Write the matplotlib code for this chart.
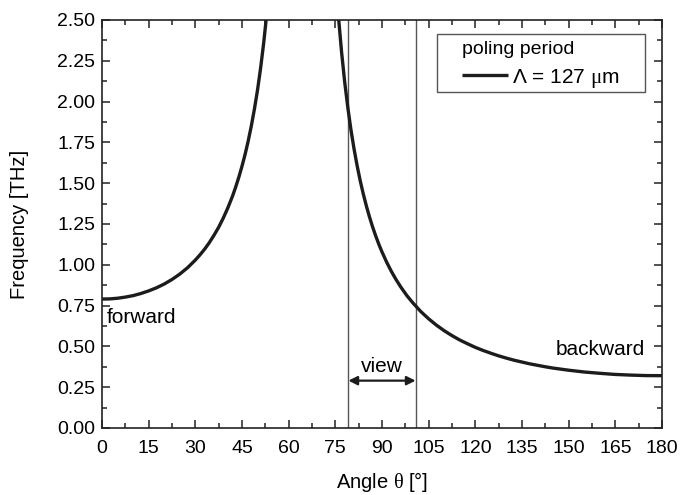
import matplotlib
matplotlib.use("Agg")
import matplotlib.pyplot as plt
from matplotlib.patches import Rectangle
from matplotlib.ticker import MultipleLocator, FormatStrFormatter

plt.rcParams['font.family'] = ['Liberation Sans', 'DejaVu Sans']
plt.rcParams['mathtext.fontset'] = 'custom'
plt.rcParams['mathtext.rm'] = 'Liberation Sans'
plt.rcParams['mathtext.it'] = 'Liberation Serif'

# phase-matched THz frequency vs emission angle, poling period 127 um
angle_fwd = [0, 2.5, 5, 7.5, 10, 12.5, 15, 17.5, 20, 22.5, 25, 27.5, 30, 31.5, 33,
             34.5, 36, 37.5, 39, 40.5, 42, 43, 44, 45, 46, 47, 48, 49, 50, 51, 52, 52.75]
freq_fwd = [0.790, 0.791, 0.795, 0.802, 0.811, 0.824, 0.840, 0.859, 0.882, 0.910,
            0.943, 0.982, 1.029, 1.061, 1.096, 1.136, 1.181, 1.230, 1.287, 1.351,
            1.423, 1.478, 1.538, 1.604, 1.677, 1.759, 1.851, 1.955, 2.072, 2.208,
            2.364, 2.50]

angle_bwd = [76.1, 77, 78, 79, 80, 81, 82, 83, 84, 85, 86, 87, 88, 89, 90, 91.5,
             93, 94.5, 96, 98, 100, 102.5, 105, 107.5, 110, 112.5, 115, 117.5, 120,
             122.5, 125, 127.5, 130, 132.5, 135, 137.5, 140, 142.5, 145, 150, 155,
             160, 165, 170, 175, 180]
freq_bwd = [2.50, 2.305, 2.122, 1.966, 1.830, 1.712, 1.608, 1.515, 1.433, 1.359,
            1.292, 1.231, 1.176, 1.125, 1.079, 1.016, 0.960, 0.910, 0.865, 0.811,
            0.765, 0.713, 0.669, 0.630, 0.596, 0.566, 0.539, 0.516, 0.494, 0.475,
            0.458, 0.442, 0.428, 0.415, 0.404, 0.393, 0.384, 0.375, 0.367, 0.354,
            0.343, 0.335, 0.328, 0.324, 0.321, 0.3205]

view_lo, view_hi = 79.2, 100.8

fig = plt.figure(figsize=(6.8, 4.95), dpi=100)
ax = fig.add_axes([0.15, 0.1354, 0.8235, 0.8242])

curve_color = '#1c1c1c'
ax.plot(angle_fwd, freq_fwd, color=curve_color, lw=2.4, solid_capstyle='butt',
        label=r'$\mathit{\Lambda}$ = 127 $\mathit{\mu}$m')
ax.plot(angle_bwd, freq_bwd, color=curve_color, lw=2.4, solid_capstyle='butt')

# viewing window
for xv in (view_lo, view_hi):
    ax.axvline(xv, color='#555555', lw=1.0, zorder=1)
ax.annotate('', xy=(view_lo, 0.29), xytext=(view_hi, 0.29),
            arrowprops=dict(arrowstyle='<|-|>', color='#1c1c1c', lw=1.6,
                            mutation_scale=13, shrinkA=0, shrinkB=0))
ax.text(90, 0.375, 'view', ha='center', va='center', fontsize=15)
ax.text(1.6, 0.675, 'forward', ha='left', va='center', fontsize=15)
ax.text(174.5, 0.48, 'backward', ha='right', va='center', fontsize=15)

ax.set_xlim(0, 180)
ax.set_ylim(0, 2.5)
ax.xaxis.set_major_locator(MultipleLocator(15))
ax.xaxis.set_minor_locator(MultipleLocator(7.5))
ax.yaxis.set_major_locator(MultipleLocator(0.25))
ax.yaxis.set_minor_locator(MultipleLocator(0.125))
ax.yaxis.set_major_formatter(FormatStrFormatter('%.2f'))
ax.tick_params(which='both', direction='in', top=True, right=True,
               width=1.1, color='#222222', labelsize=14)
ax.tick_params(which='major', length=6)
ax.tick_params(which='minor', length=3.5)
ax.tick_params(axis='x', pad=9)
ax.tick_params(axis='y', pad=5)
for sp in ax.spines.values():
    sp.set_linewidth(1.2)
    sp.set_color('#222222')

ax.set_xlabel(r'Angle $\theta$ [°]', fontsize=14.5, labelpad=9)
ax.set_ylabel('Frequency [THz]', fontsize=14.5, labelpad=20)

# legend box drawn separately so the padding can be set freely
ax.add_patch(Rectangle((0.598, 0.8235), 0.3714, 0.1422, transform=ax.transAxes,
                       fill=False, ec='#555555', lw=1.0, zorder=5))
leg = ax.legend(title='poling period', loc='center left',
                bbox_to_anchor=(0.6429, 0.8885), alignment='left',
                fontsize=15, title_fontsize=14, frameon=False,
                handlelength=2.2, handletextpad=0.2, labelspacing=0.3,
                borderpad=0, borderaxespad=0)
leg._legend_box.sep = 6

fig.savefig('out.png', dpi=100, facecolor='white')
